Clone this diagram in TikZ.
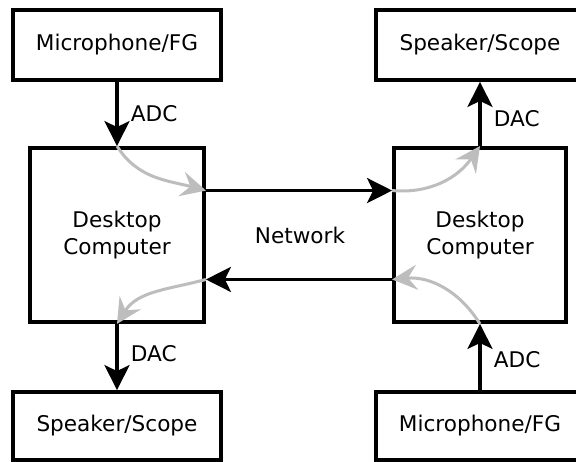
\documentclass[tikz,border=0pt]{standalone}
\usepackage{fontspec}
\setmainfont{DejaVu Sans}
\usetikzlibrary{arrows.meta,calc}
\definecolor{flowgray}{HTML}{BDBDBD}
\tikzset{
  unit/.style={draw=black, line width=3.8pt, inner sep=0pt, align=center,
               font=\fontsize{21.6}{27}\selectfont},
  iobox/.style={unit, minimum width=208pt, minimum height=70pt},
  pcbox/.style={unit, minimum width=174pt, minimum height=174pt},
  link/.style={line width=3.8pt, -{Stealth[length=25pt,width=25pt,inset=6pt]}},
  flow/.style={flowgray, line width=3pt, -{Stealth[length=25pt,width=25pt,inset=9pt]}},
  tag/.style={inner sep=0pt, font=\fontsize{21.6}{27}\selectfont}
}
\begin{document}
\begin{tikzpicture}[x=1pt,y=-1pt]
  \clip (0,0) rectangle (576,461);
  \fill[white] (0,0) rectangle (576,461);

  % devices and computers
  \node[iobox] (micL) at (117,45) {Microphone/FG};
  \node[pcbox] (pcL) at (117,235) {Desktop\\Computer};
  \node[iobox, minimum height=68pt] (spkL) at (117,426) {Speaker/Scope};
  \node[iobox] (spkR) at (480,45) {Speaker/Scope};
  \node[pcbox, minimum width=172pt] (pcR) at (480,235) {Desktop\\Computer};
  \node[iobox, minimum height=68pt] (micR) at (480,426) {Microphone/FG};

  % network ports on the computer sides
  \coordinate (pcLout) at ($(pcL.north east)!0.25!(pcL.south east)$);
  \coordinate (pcLin)  at ($(pcL.north east)!0.75!(pcL.south east)$);
  \coordinate (pcRin)  at ($(pcR.north west)!0.25!(pcR.south west)$);
  \coordinate (pcRout) at ($(pcR.north west)!0.75!(pcR.south west)$);

  \node[tag] (net) at (300,235) {Network};

  % signal paths
  \draw[link] (micL) -- node[tag, right, xshift=12pt] (adcL) {ADC} (pcL);
  \draw[link] (pcL) -- node[tag, right, xshift=12pt, yshift=3pt] (dacL) {DAC} (spkL);
  \draw[link] (pcR) -- node[tag, right, xshift=12pt, yshift=-5pt] (dacR) {DAC} (spkR);
  \draw[link] (micR) -- node[tag, right, xshift=12pt, yshift=-3pt] (adcR) {ADC} (pcR);
  \draw[link] (pcLout) -- (pcRin);
  \draw[link] (pcRout) -- (pcLin);

  % internal routing inside each computer
  \draw[flow] (pcL.north) to[out=-58, in=165] (pcLout);
  \draw[flow] (pcRin) to[out=-5, in=-125] (pcR.north);
  \draw[flow] (pcR.south) to[out=122, in=5] (pcRout);
  \draw[flow] (pcLin) to[out=-165, in=58] (pcL.south);
\end{tikzpicture}
\end{document}
